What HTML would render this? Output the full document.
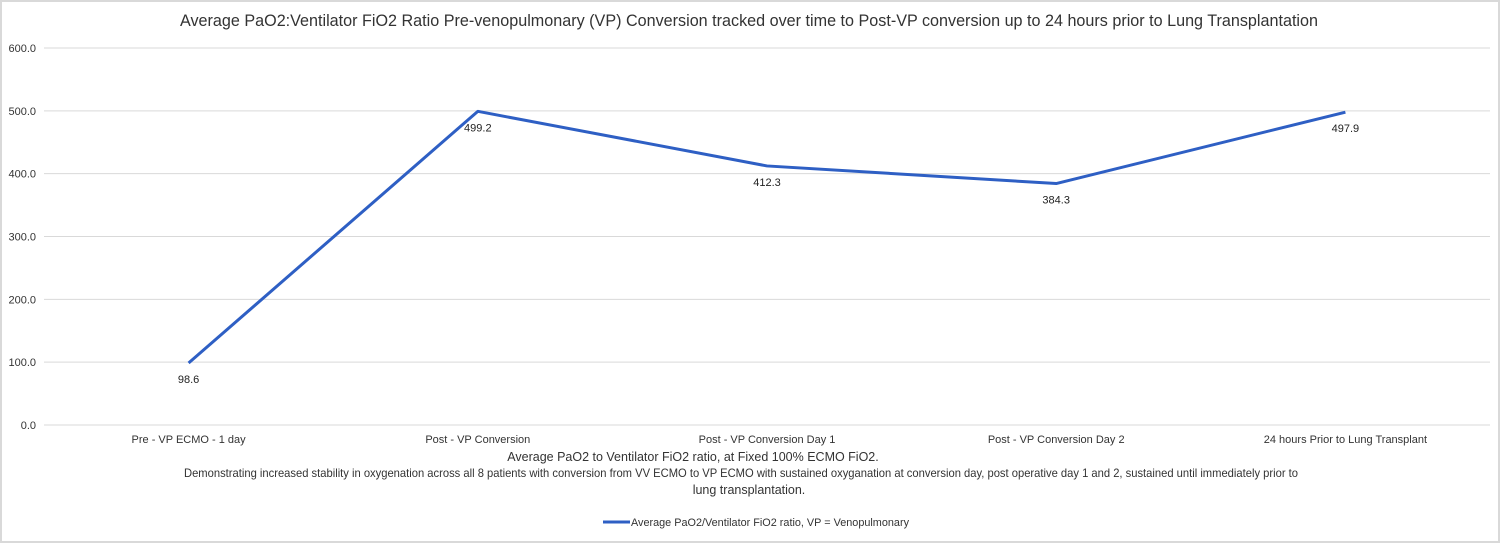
<!DOCTYPE html>
<html><head><meta charset="utf-8"><style>
body{margin:0;background:#fff;}
svg{display:block;font-family:"Liberation Sans",sans-serif;}
</style></head><body>
<svg id="chart" width="1500" height="543">
<rect x="1" y="1" width="1498" height="541" fill="#fff" stroke="#d9d9d9" stroke-width="2"/>
<text x="749" y="26" text-anchor="middle" font-size="17" fill="#333" textLength="1138" lengthAdjust="spacingAndGlyphs">Average PaO2:Ventilator FiO2 Ratio Pre-venopulmonary (VP) Conversion tracked over time to Post-VP conversion up to 24 hours prior to Lung Transplantation</text>
<g id="grid"></g><g id="xlabels"></g><g id="series"></g>
<text x="693" y="461" text-anchor="middle" font-size="12.5" fill="#333">Average PaO2 to Ventilator FiO2 ratio, at Fixed 100% ECMO FiO2.</text>
<text x="741" y="477" text-anchor="middle" font-size="12" fill="#333" textLength="1114" lengthAdjust="spacingAndGlyphs">Demonstrating increased stability in oxygenation across all 8 patients with conversion from VV ECMO to VP ECMO with sustained oxyganation at conversion day, post operative day 1 and 2, sustained until immediately prior to</text>
<text x="749" y="494" text-anchor="middle" font-size="12.5" fill="#333">lung transplantation.</text>
<g>
<line x1="603" y1="522" x2="630" y2="522" stroke="#2e5fc4" stroke-width="3"/>
<text x="631" y="526" font-size="11" fill="#333" textLength="278" lengthAdjust="spacingAndGlyphs">Average PaO2/Ventilator FiO2 ratio, VP = Venopulmonary</text>
</g>
</svg>
<script>
const categories=["Pre - VP ECMO - 1 day","Post - VP Conversion","Post - VP Conversion Day 1","Post - VP Conversion Day 2","24 hours Prior to Lung Transplant"];
const values=[98.6,499.2,412.3,384.3,497.9];
const yTicks=[0,100,200,300,400,500,600];
const ns="http://www.w3.org/2000/svg";
const L=44,R=1490,T=48,B=425,yMax=600;
const y=v=>B-(v/yMax)*(B-T);
const bw=(R-L)/categories.length;
const x=i=>L+bw*(i+0.5);
function mk(tag,attrs,parent,txt){const e=document.createElementNS(ns,tag);for(const k in attrs)e.setAttribute(k,attrs[k]);if(txt!==undefined)e.textContent=txt;document.getElementById(parent).appendChild(e);return e;}
yTicks.forEach(t=>{
 const g=mk('line',{x1:L,x2:R,y1:y(t),y2:y(t),stroke:'#d9d9d9','stroke-width':1},'grid');
 
 
 const l=mk('text',{x:36,y:y(t)+4,'text-anchor':'end','font-size':11,fill:'#333'},'grid',t.toFixed(1));
 
 
});
categories.forEach((c,i)=>{
 const l=mk('text',{x:x(i),y:443,'text-anchor':'middle','font-size':11,fill:'#333'},'xlabels',c);
 
 
});
const pts=values.map((v,i)=>x(i)+','+y(v)).join(' ');
const pl=mk('polyline',{points:pts,fill:'none',stroke:'#2e5fc4','stroke-width':3,'stroke-linejoin':'round'},'series');


values.forEach((v,i)=>{
 const l=mk('text',{x:x(i),y:y(v)+20,'text-anchor':'middle','font-size':11,fill:'#222'},'series',v.toFixed(1));
 
 
});
</script>
</body></html>
